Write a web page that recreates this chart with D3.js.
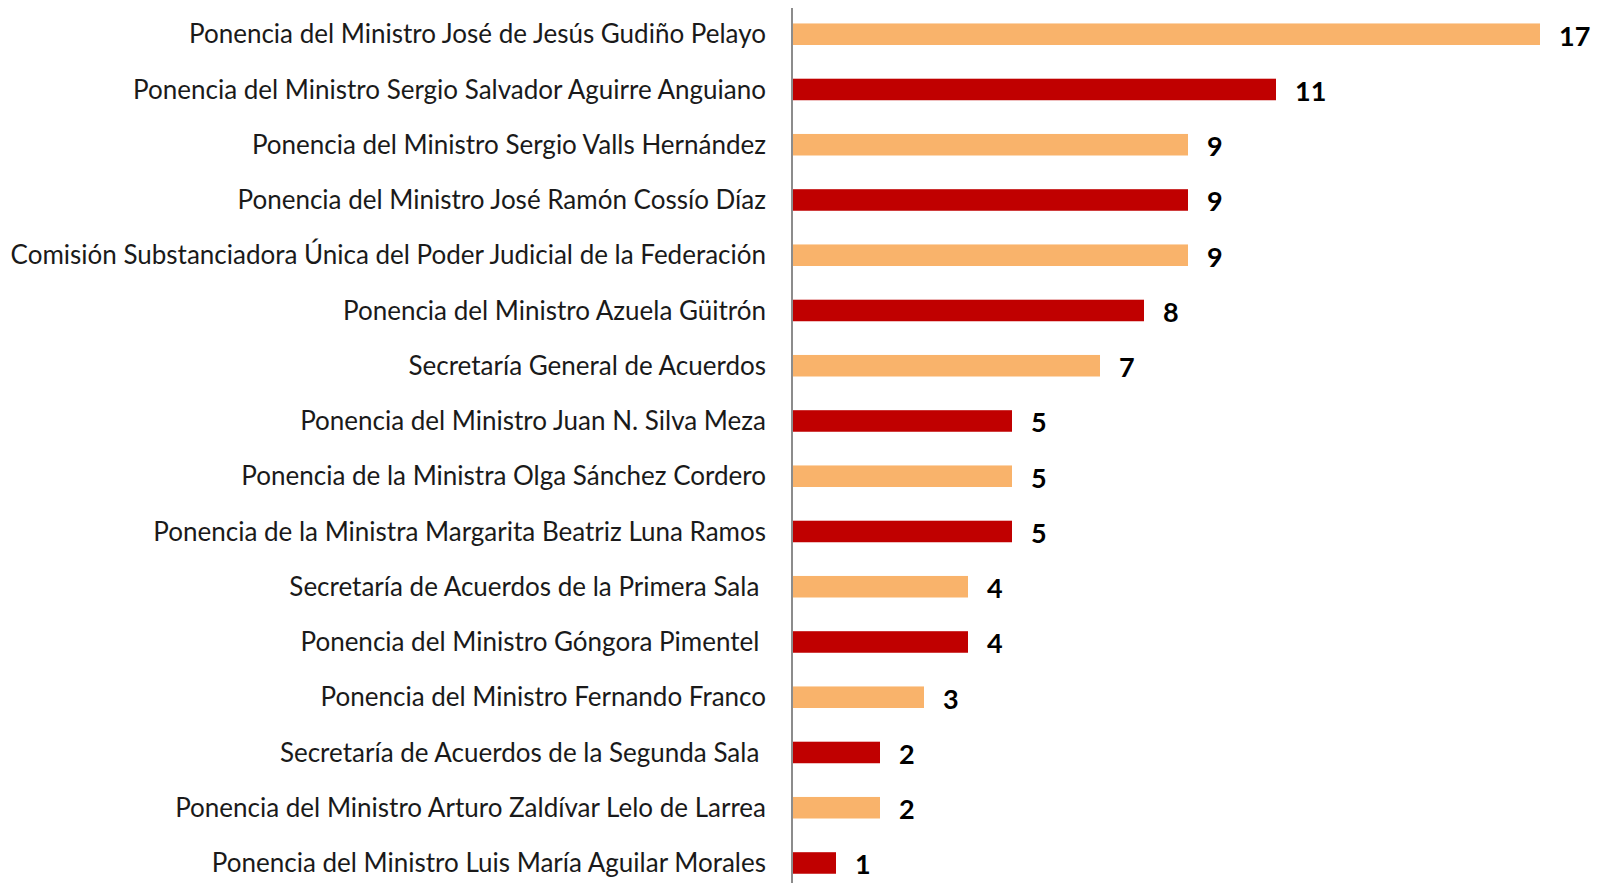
<!DOCTYPE html>
<html>
<head>
<meta charset="utf-8">
<script src="https://cdn.jsdelivr.net/npm/d3@7"></script>
<style>
  body { margin: 0; background: #fff; }
  svg text { font-family: Lato, "Open Sans", sans-serif; }
</style>
</head>
<body>
<div id="chart"></div>
<script>
// data
var labels = [
  "Ponencia del Ministro José de Jesús Gudiño Pelayo",
  "Ponencia del Ministro Sergio Salvador Aguirre Anguiano",
  "Ponencia del Ministro Sergio Valls Hernández",
  "Ponencia del Ministro José Ramón Cossío Díaz",
  "Comisión Substanciadora Única del Poder Judicial de la Federación",
  "Ponencia del Ministro Azuela Güitrón",
  "Secretaría General de Acuerdos",
  "Ponencia del Ministro Juan N. Silva Meza",
  "Ponencia de la Ministra Olga Sánchez Cordero",
  "Ponencia de la Ministra Margarita Beatriz Luna Ramos",
  "Secretaría de Acuerdos de la Primera Sala ",
  "Ponencia del Ministro Góngora Pimentel ",
  "Ponencia del Ministro Fernando Franco",
  "Secretaría de Acuerdos de la Segunda Sala ",
  "Ponencia del Ministro Arturo Zaldívar Lelo de Larrea",
  "Ponencia del Ministro Luis María Aguilar Morales"
];
var values = [17, 11, 9, 9, 9, 8, 7, 5, 5, 5, 4, 4, 3, 2, 2, 1];
var colors = ["#F9B36B", "#C00000"];

// set the dimensions and margins of the graph
var width = 1600, height = 883;
var axisX = 792;

var svg = d3.select("#chart")
  .append("svg")
    .attr("width", width)
    .attr("height", height);

var x = d3.scaleLinear()
  .domain([0, 17])
  .range([axisX, 1540]);

var y = d3.scaleBand()
  .domain(labels)
  .range([6.6, 6.6 + 55.25 * labels.length])
  .paddingInner(0.61)
  .paddingOuter(0.305);

// bars
svg.append("g")
  .selectAll("rect")
  .data(values)
  .enter()
  .append("rect")
    .attr("x", x(0))
    .attr("y", function (d, i) { return y(labels[i]); })
    .attr("width", function (d) { return x(d) - x(0); })
    .attr("height", y.bandwidth())
    .style("fill", function (d, i) { return colors[i % 2]; });

// category labels
svg.append("g")
  .selectAll("text")
  .data(labels)
  .enter()
  .append("text")
    .attr("x", axisX - 26)
    .attr("y", function (d) { return y(d) + y.bandwidth() / 2; })
    .attr("dy", "0.35em")
    .attr("text-anchor", "end")
    .style("font-size", "26px")
    .style("fill", "#1a1a1a")
    .style("white-space", "pre")
    .text(function (d) { return d; });

// value labels
svg.append("g")
  .selectAll("text")
  .data(values)
  .enter()
  .append("text")
    .attr("x", function (d) { return x(d) + 19; })
    .attr("y", function (d, i) { return y(labels[i]) + y.bandwidth() / 2 + 2; })
    .attr("dy", "0.35em")
    .style("font-size", "27px")
    .style("font-weight", "bold")
    .style("fill", "#000")
    .text(function (d) { return d; });

// axis line
svg.append("line")
  .attr("x1", axisX)
  .attr("x2", axisX)
  .attr("y1", 8)
  .attr("y2", height)
  .style("stroke", "#8c8c8c")
  .style("stroke-width", 2);
</script>
</body>
</html>
